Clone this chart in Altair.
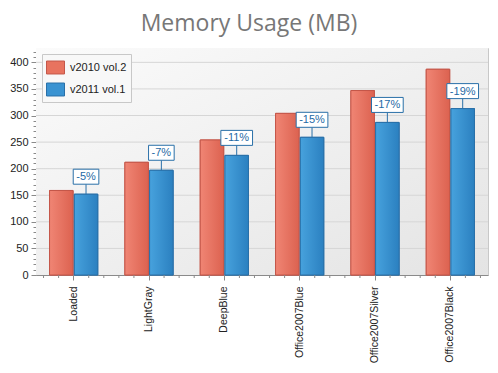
import altair as alt
import pandas as pd

CATS = ["Loaded", "LightGray", "DeepBlue", "Office2007Blue", "Office2007Silver", "Office2007Black"]
SERIES = ["v2010 vol.2", "v2011 vol.1"]
V2010 = [159, 212, 254, 304, 347, 387]
V2011 = [152, 197, 225, 259, 287, 313]
PCT = ["-5%", "-7%", "-11%", "-15%", "-17%", "-19%"]
Y_TICKS = list(range(0, 421, 10))
GRID = list(range(50, 401, 50))

W, H = 452, 227
FONT = "Liberation Sans"

rows = []
for i, c in enumerate(CATS):
    rows.append({"cat": c, "series": SERIES[0], "val": V2010[i], "label": ""})
    rows.append({"cat": c, "series": SERIES[1], "val": V2011[i], "label": PCT[i]})
df = pd.DataFrame(rows)

x_enc = alt.X("cat:N", sort=CATS,
              scale=alt.Scale(domain=CATS, paddingInner=0.36, paddingOuter=0.18),
              title=None,
              axis=alt.Axis(labelAngle=-90, labelAlign="right", labelBaseline="middle",
                            labelFont=FONT, labelFontSize=10.5, labelColor="#222222",
                            labelPadding=6, tickSize=5, tickColor="#8a8a8a",
                            domainColor="#8a8a8a", grid=False, labelLimit=200))
xo_enc = alt.XOffset("series:N", scale=alt.Scale(domain=SERIES, paddingInner=0.05))
y_scale = alt.Scale(domain=[0, 427], nice=False, zero=True)
y_enc = alt.Y("val:Q", scale=y_scale, title=None,
              axis=alt.Axis(values=Y_TICKS, grid=False, labelOverlap=False,
                            labelExpr="datum.value % 50 === 0 ? datum.label : ''",
                            tickSize={"condition": {"test": "datum.value % 50 === 0", "value": 5}, "value": 3},
                            tickColor="#8a8a8a", domainColor="#8a8a8a",
                            labelFont=FONT, labelFontSize=11, labelColor="#222222",
                            labelPadding=3))

def grad(c1, c2, x2=1, y2=0):
    return alt.LinearGradient(gradient="linear", x1=0, y1=0, x2=x2, y2=y2,
                              stops=[alt.GradientStop(offset=0, color=c1),
                                     alt.GradientStop(offset=1, color=c2)])

background = alt.Chart(alt.Data(values=[{}])).mark_rect(
    fill=grad("#fbfbfb", "#e4e4e4", 1, 1)
).encode(x=alt.value(0), x2=alt.value(W), y=alt.value(0), y2=alt.value(H))

grid = alt.Chart(pd.DataFrame({"val": GRID})).mark_rule(color="#d6d6d6", strokeWidth=1).encode(
    y=y_enc, x=alt.value(0), x2=alt.value(W))

leg = dict(title=None, orient="none", legendX=6, legendY=6)
base = alt.Chart(df).mark_bar(strokeWidth=1).encode(
    x=x_enc, xOffset=xo_enc, y=y_enc,
    fill=alt.Fill("series:N", scale=alt.Scale(domain=SERIES, range=["#e8735f", "#3a93d2"]),
                  legend=alt.Legend(**leg)),
    stroke=alt.Stroke("series:N", scale=alt.Scale(domain=SERIES, range=["#c4574a", "#2a70a8"]),
                      legend=alt.Legend(**leg)),
)

red = alt.Chart(df).transform_filter(alt.datum.series == SERIES[0]).mark_bar(
    fill=grad("#f08574", "#dc6250"), stroke="#c4574a", strokeWidth=1
).encode(x=x_enc, xOffset=xo_enc, y=y_enc)

blue = alt.Chart(df).transform_filter(alt.datum.series == SERIES[1]).mark_bar(
    fill=grad("#47a2dd", "#2b80c0"), stroke="#2a70a8", strokeWidth=1
).encode(x=x_enc, xOffset=xo_enc, y=y_enc)

lab = alt.Chart(df).transform_filter(alt.datum.series == SERIES[1]).transform_calculate(
    boxw="6.1 * (length(datum.label) - 2) + 19.5")

conn = lab.mark_rule(color="#2a70a8", strokeWidth=1, y2Offset=-10).encode(
    x=x_enc, xOffset=xo_enc, y=y_enc, y2=alt.Y2("val:Q"))

box = lab.mark_bar(fill="white", stroke="#2a70a8", strokeWidth=1,
                   yOffset=-25, y2Offset=-10).encode(
    x=x_enc, xOffset=xo_enc, y=y_enc, y2=alt.Y2("val:Q"),
    size=alt.Size("boxw:Q", scale=None, legend=None))

txt = lab.mark_text(color="#1f6aa5", font=FONT, fontSize=11, baseline="middle",
                    align="center", yOffset=-17).encode(
    x=x_enc, xOffset=xo_enc, y=y_enc, text="label:N")

step = W / 6
minor = []
for k in (-2, -1, 1, 2):
    minor.append(alt.Chart(pd.DataFrame({"cat": CATS})).mark_rule(
        color="#8a8a8a", xOffset=k * step / 5).encode(
        x=x_enc, y=alt.value(H), y2=alt.value(H + 3)))

chart = alt.layer(background, grid, base, red, blue, conn, box, txt, *minor).properties(
    width=W, height=H, background="white",
    title=alt.TitleParams("Memory Usage (MB)", font="Open Sans", fontSize=23,
                          fontWeight="normal", color="#777777", anchor="middle",
                          dx=-13, offset=10),
    autosize=alt.AutoSizeParams(type="none"),
    padding={"left": 28, "top": 40, "right": 2, "bottom": 90},
).configure_view(stroke="#c8c8c8", strokeWidth=1).configure_axis(
    labelOverlap=False
).configure_legend(
    fillColor="#f8f8f8", strokeColor="#c8c8c8",
    padding=4, symbolType="M-1,-0.72H1V0.72H-1Z", symbolSize=324, symbolStrokeWidth=1,
    labelFont=FONT, labelFontSize=11, labelColor="#222222", rowPadding=4, labelOffset=5,
    symbolOpacity=1,
)

chart.save("out.html", embed_options={"renderer": "svg", "actions": False})
